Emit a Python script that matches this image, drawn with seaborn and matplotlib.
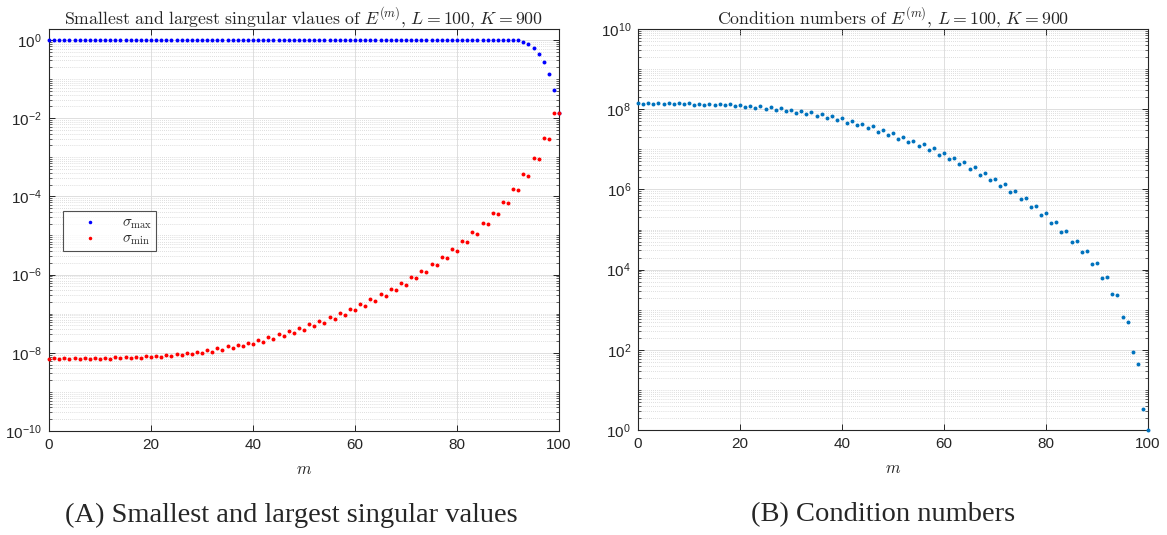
import numpy as np
import pandas as pd
import matplotlib
matplotlib.use("Agg")
import matplotlib.pyplot as plt
import matplotlib.ticker as mticker
import seaborn as sns

# ---------------- data (log10 values) ----------------
m_values = list(range(101))

log_sigma_max = [0.0] * 92 + [-0.005, -0.06, -0.11, -0.20, -0.35, -0.57, -0.88, -1.29, -1.87]

log_sigma_min = [
    -8.16, -8.14, -8.16, -8.14, -8.16, -8.14, -8.16, -8.14, -8.16, -8.14, -8.16,
    -8.13, -8.15, -8.12, -8.145, -8.11, -8.135, -8.10, -8.125, -8.085, -8.11,
    -8.07, -8.095, -8.05, -8.075, -8.03, -8.06, -8.005, -8.035, -7.98, -8.01,
    -7.94, -7.97, -7.88, -7.916, -7.831, -7.873, -7.789, -7.823, -7.747, -7.772,
    -7.662, -7.713, -7.595, -7.637, -7.519, -7.570, -7.435, -7.494, -7.367, -7.409,
    -7.274, -7.325, -7.181, -7.232, -7.089, -7.131, -6.987, -7.030, -6.878, -6.911,
    -6.751, -6.802, -6.633, -6.675, -6.506, -6.549, -6.37, -6.40, -6.22, -6.26,
    -6.07, -6.10, -5.90, -5.94, -5.73, -5.76, -5.56, -5.58, -5.35, -5.39,
    -5.15, -5.17, -4.92, -4.95, -4.69, -4.71, -4.42, -4.45, -4.14, -4.16,
    -3.81, -3.84, -3.44, -3.47, -3.03, -3.05, -2.51, -2.54, -1.87, -1.87,
]

log_cond = [
    8.15, 8.125, 8.15, 8.125, 8.15, 8.125, 8.15, 8.125, 8.15, 8.125, 8.15,
    8.116, 8.140, 8.116, 8.140, 8.107, 8.132, 8.099, 8.124, 8.083, 8.107,
    8.066, 8.091, 8.033, 8.074, 8.008, 8.050, 7.975, 8.025, 7.950, 7.992,
    7.909, 7.959, 7.868, 7.918, 7.827, 7.868, 7.770, 7.819, 7.720, 7.770,
    7.654, 7.695, 7.597, 7.638, 7.523, 7.572, 7.440, 7.490, 7.358, 7.407,
    7.267, 7.317, 7.185, 7.218, 7.078, 7.128, 6.971, 7.021, 6.864, 6.914,
    6.749, 6.790, 6.626, 6.675, 6.506, 6.549, 6.37, 6.41, 6.243, 6.27,
    6.092, 6.126, 5.925, 5.958, 5.749, 5.782, 5.565, 5.598, 5.372, 5.406,
    5.163, 5.188, 4.937, 4.962, 4.695, 4.720, 4.427, 4.452, 4.134, 4.159,
    3.799, 3.808, 3.397, 3.356, 2.820, 2.686, 1.933, 1.640, 0.536, 0.0,
]

x_ticks = [0, 20, 40, 60, 80, 100]

df = pd.DataFrame({
    "m": m_values,
    "smax": np.power(10.0, log_sigma_max),
    "smin": np.power(10.0, log_sigma_min),
    "cond": np.power(10.0, log_cond),
})

# ---------------- style ----------------
sns.set_style("white")
plt.rcParams["font.family"] = ["Liberation Sans", "DejaVu Sans"]
plt.rcParams["mathtext.fontset"] = "cm"

W, H = 1167, 535
fig = plt.figure(figsize=(W / 100, H / 100), dpi=100)

def px_axes(x0, x1, ytop, ybot):
    return fig.add_axes([x0 / W, 1 - ybot / H, (x1 - x0) / W, (ybot - ytop) / H])

axL = px_axes(49, 559, 29, 431)
axR = px_axes(638, 1148, 29, 430)

MS = 8

sns.scatterplot(data=df, x="m", y="smax", ax=axL, color="#0000ff", s=MS,
                linewidth=0, label=r"$\sigma_{\max}$", clip_on=False, zorder=3)
sns.scatterplot(data=df, x="m", y="smin", ax=axL, color="#ff0000", s=MS,
                linewidth=0, label=r"$\sigma_{\min}$", clip_on=False, zorder=4)
sns.scatterplot(data=df, x="m", y="cond", ax=axR, color="#0072BD", s=MS,
                linewidth=0, clip_on=False, zorder=3)

def style_axis(ax, ylo, yhi, dec_lo, dec_hi):
    ax.set_yscale("log")
    ax.set_xlim(0, 100)
    ax.set_ylim(ylo, yhi)
    ax.set_xticks(x_ticks)
    ax.set_yticks([10.0 ** k for k in range(dec_lo, dec_hi + 1, 2)])
    ax.yaxis.set_major_formatter(mticker.LogFormatterMathtext())
    ax.yaxis.set_minor_locator(mticker.LogLocator(base=10, subs=np.arange(1, 10), numticks=50))
    ax.yaxis.set_minor_formatter(mticker.NullFormatter())
    ax.grid(True, which="major", color="#dedede", linewidth=0.7, linestyle="-")
    ax.grid(True, which="minor", axis="y", color="#d4d4d4", linewidth=0.6, linestyle=(0, (1, 1.5)))
    ax.set_axisbelow(True)
    for sp in ax.spines.values():
        sp.set_color("#262626")
        sp.set_linewidth(0.8)
        sp.set_visible(True)
    ax.tick_params(axis="both", which="major", direction="in", length=4, width=0.7,
                   top=True, right=True, left=True, bottom=True,
                   labelsize=11, colors="#262626", pad=5)
    ax.tick_params(axis="y", which="minor", direction="in", length=2, width=0.5,
                   left=True, right=True, colors="#262626")
    ax.tick_params(axis="x", which="minor", bottom=False, top=False)
    ax.set_xlabel(r"$m$", fontsize=12, labelpad=7, color="#262626")
    ax.set_ylabel("")

style_axis(axL, 1e-10, 10 ** 0.28, -10, 0)
style_axis(axR, 1.0, 1e10, 0, 10)

axL.set_title(r"$\mathrm{Smallest\ and\ largest\ singular\ vlaues\ of\ }E^{(m)}\mathrm{,}\ L=100\mathrm{,}\ K=900$",
              fontsize=12.8, pad=4)
axR.set_title(r"$\mathrm{Condition\ numbers\ of\ }E^{(m)}\mathrm{,}\ L=100\mathrm{,}\ K=900$",
              fontsize=12.8, pad=4)

leg = axL.legend(loc="upper left", bbox_to_anchor=(0.027, 0.547), borderaxespad=0,
                 fontsize=11, frameon=True, fancybox=False, markerscale=0.9,
                 handletextpad=0.6, borderpad=0.25, labelspacing=0.05, handlelength=3.0)
leg.get_frame().set_edgecolor("#262626")
leg.get_frame().set_linewidth(0.8)

fig.text(291 / W, 1 - 515 / H, "(A) Smallest and largest singular values",
         ha="center", va="center", fontsize=20.5, family="Liberation Serif")
fig.text(883 / W, 1 - 515 / H, "(B) Condition numbers",
         ha="center", va="center", fontsize=20.5, family="Liberation Serif")

fig.savefig("out.png", dpi=100)
